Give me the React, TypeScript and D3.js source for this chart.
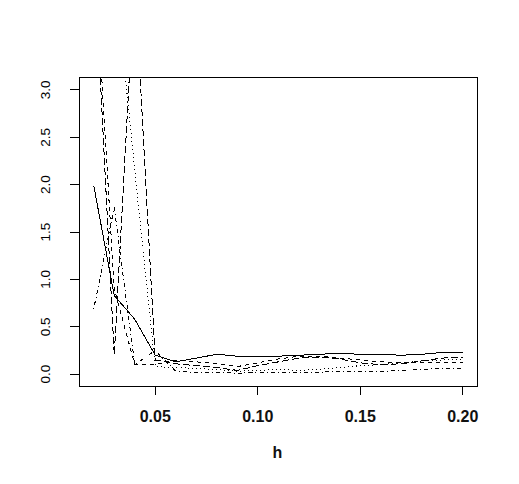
import React from 'react';
import * as d3 from 'd3';

// bandwidths h and five error curves (matplot style, black, lty 1..5)
const hValues = [0.02, 0.03, 0.04, 0.05, 0.06, 0.07, 0.08, 0.09, 0.10, 0.11,
                 0.12, 0.13, 0.14, 0.15, 0.16, 0.17, 0.18, 0.19, 0.20];

const seriesSolid = [1.99, 0.83, 0.58, 0.20, 0.13, 0.17, 0.21, 0.19, 0.19, 0.19,
                     0.20, 0.21, 0.22, 0.21, 0.21, 0.20, 0.21, 0.23, 0.23];
const seriesDashed = [4.55, 0.90, 0.10, 0.10, 0.15, 0.13, 0.11, 0.08, 0.12, 0.16,
                      0.19, 0.19, 0.17, 0.15, 0.13, 0.12, 0.12, 0.12, 0.12];
const seriesDotted = [5.6, 4.3, 2.15, 0.08, 0.07, 0.06, 0.05, 0.03, 0.04, 0.05,
                      0.04, 0.05, 0.07, 0.09, 0.10, 0.12, 0.14, 0.15, 0.15];
const seriesDotDash = [0.69, 1.76, 0.10, 0.25, 0.03, 0.02, 0.02, 0.01, 0.02, 0.02,
                       0.02, 0.02, 0.03, 0.03, 0.03, 0.04, 0.05, 0.06, 0.06];
const seriesLongDash = [4.5, 0.20, 4.2, 0.15, 0.11, 0.09, 0.07, 0.04, 0.09, 0.13,
                        0.17, 0.18, 0.16, 0.12, 0.10, 0.11, 0.14, 0.17, 0.18];

const allSeries = [seriesSolid, seriesDashed, seriesDotted, seriesDotDash, seriesLongDash];
const dashes = ['none', '4,4', '1,3', '1,3,4,3', '7,3'];

const xTicks = [0.05, 0.10, 0.15, 0.20];
const yTicks = [0.0, 0.5, 1.0, 1.5, 2.0, 2.5, 3.0];
const xLabel = 'h';

const W = 519, H = 484;
const box = { left: 79, right: 477.5, top: 77, bottom: 386.5 };

export default function App() {
  const x = d3.scaleLinear().domain([0.0128, 0.2072]).range([box.left, box.right]);
  const y = d3.scaleLinear().domain([-0.13, 3.137]).range([box.bottom, box.top]);

  const line = d3.line<number>()
    .x((_, i) => x(hValues[i]))
    .y(d => y(d));

  const font = 'Arial, "Liberation Sans", sans-serif';

  return (
    <svg width={W} height={H} style={{ position: 'absolute', left: 0, top: 0, background: '#fff' }}>
      <defs>
        <clipPath id="plotclip">
          <rect x={box.left} y={box.top} width={box.right - box.left} height={box.bottom - box.top} />
        </clipPath>
      </defs>
      <rect x={0} y={0} width={W} height={H} fill="#fff" />

      <g clipPath="url(#plotclip)">
        {allSeries.map((s, k) =>
          <path key={k} d={line(s) || ''} fill="none" stroke="#000" strokeWidth={1}
                strokeDasharray={dashes[k]} shapeRendering="crispEdges" />
        )}
      </g>

      <rect x={box.left} y={box.top} width={box.right - box.left} height={box.bottom - box.top}
            fill="none" stroke="#000" strokeWidth={1} shapeRendering="crispEdges" />

      {/* x axis */}
      <g>
        {xTicks.map(t =>
          <g key={t}>
            <line x1={x(t)} x2={x(t)} y1={box.bottom} y2={box.bottom + 8}
                  stroke="#000" shapeRendering="crispEdges" />
            <text x={x(t)} y={421.5} textAnchor="middle" fontFamily={font}
                  fontSize={16} fontWeight="bold" fill="#111">{d3.format('.2f')(t)}</text>
          </g>
        )}
        <text x={277.5} y={458} textAnchor="middle" fontFamily={font}
              fontSize={16} fontWeight="bold" fill="#111">{xLabel}</text>
      </g>

      {/* y axis */}
      <g>
        {yTicks.map(t =>
          <g key={t}>
            <line x1={box.left - 9} x2={box.left} y1={y(t)} y2={y(t)}
                  stroke="#000" shapeRendering="crispEdges" />
            <text transform={`translate(49.5,${y(t)}) rotate(-90)`} textAnchor="middle"
                  fontFamily={font} fontSize={13.5} fill="#000">{d3.format('.1f')(t)}</text>
          </g>
        )}
      </g>
    </svg>
  );
}
